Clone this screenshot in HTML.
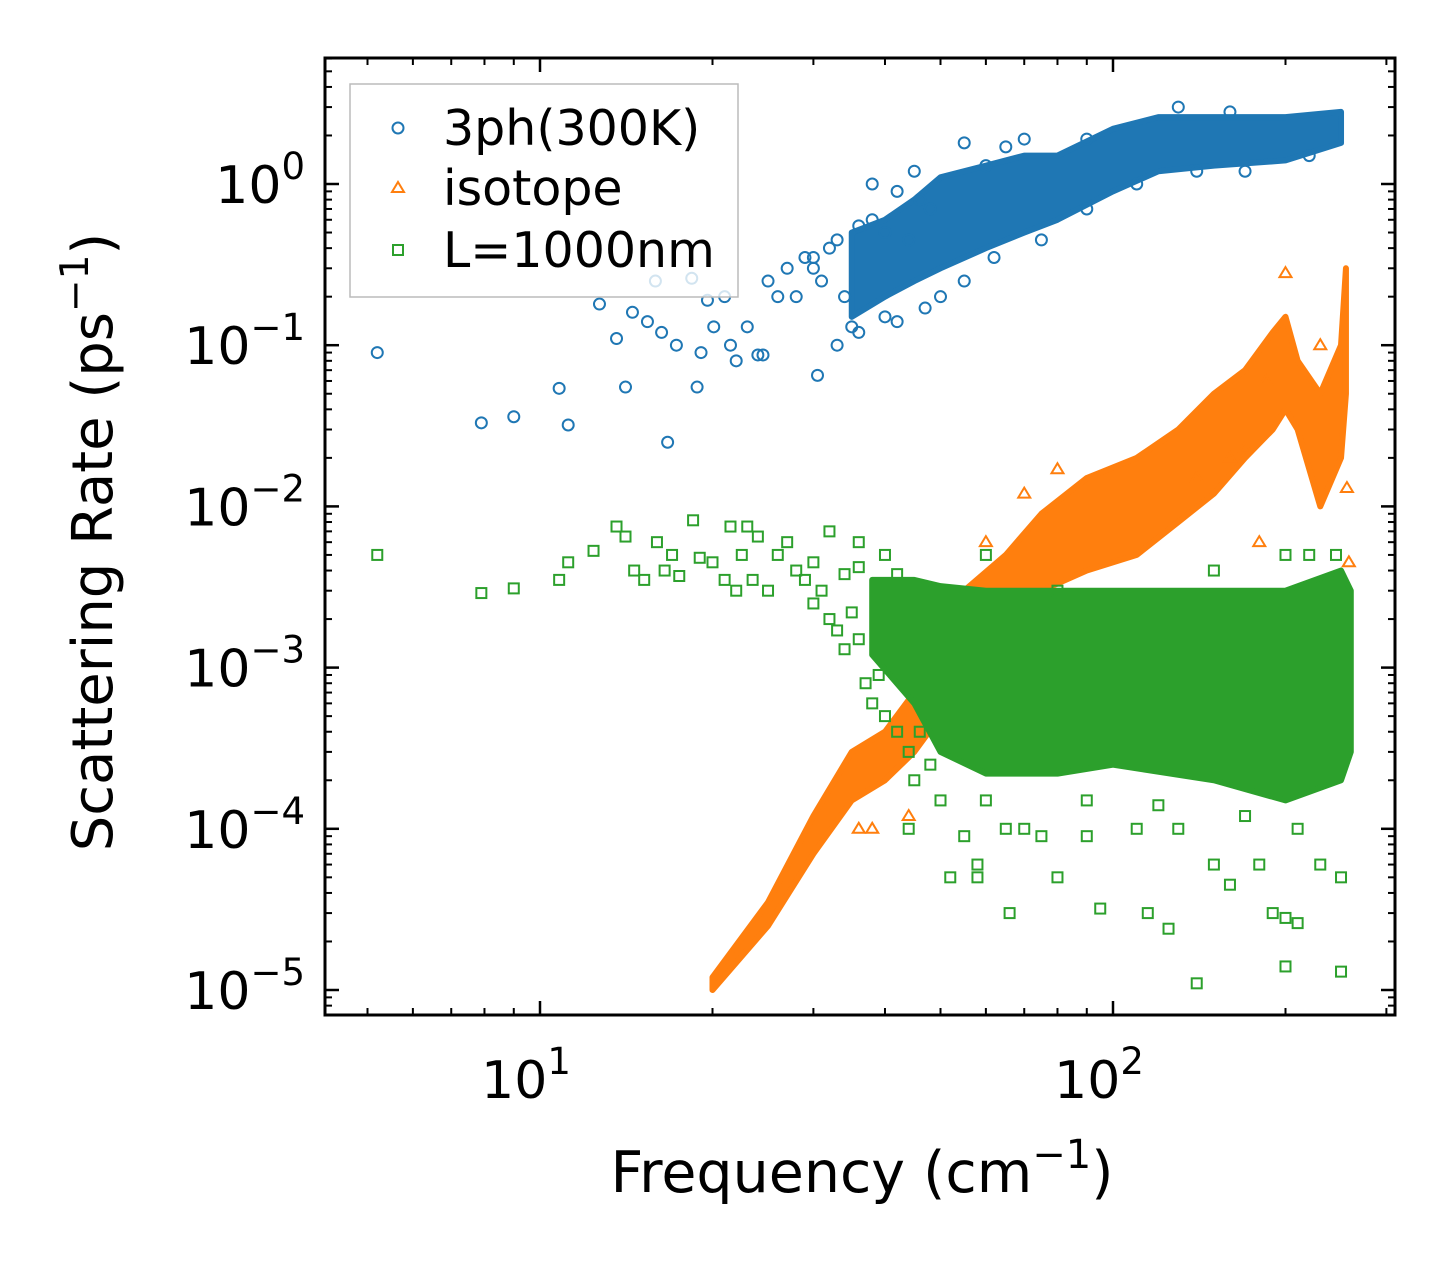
<!DOCTYPE html>
<html><head><meta charset="utf-8">
<style>
html,body{margin:0;padding:0;background:#fff;}
svg text{font-family:"DejaVu Sans","Liberation Sans",sans-serif;fill:#000;}
</style></head>
<body>
<svg id="chart" width="1455" height="1265" viewBox="0 0 1455 1265" xmlns="http://www.w3.org/2000/svg">
<g id="plot"></g>
<g id="axes"></g>
<rect x="325" y="58" width="1070" height="957" fill="none" stroke="#000" stroke-width="3"/>
<text transform="translate(112,542) rotate(-90)" text-anchor="middle" font-size="56">Scattering Rate (ps<tspan dy="-24" font-size="39">−1</tspan><tspan dy="24">)</tspan></text>
<text x="862" y="1192" text-anchor="middle" font-size="57">Frequency (cm<tspan dy="-24" font-size="40">−1</tspan><tspan dy="24">)</tspan></text>
<g>
<rect x="350" y="84" width="388" height="213" fill="#fff" fill-opacity="0.8" stroke="#bbb" stroke-width="1.5"/>
<circle cx="398" cy="128" r="5.5" fill="none" stroke="#1f77b4" stroke-width="2"/>
<text x="443" y="145" font-size="49">3ph(300K)</text>
<polygon points="398,182 404,192 392,192" fill="none" stroke="#ff7f0e" stroke-width="2"/>
<text x="443" y="205" font-size="49">isotope</text>
<rect x="393" y="245" width="10" height="10" fill="none" stroke="#2ca02c" stroke-width="2"/>
<text x="443" y="267" font-size="49">L=1000nm</text>
</g>
</svg>
<script>
// Dense-region envelopes: [freq, low, high]
const blueBand = [[35,0.15,0.5],[40,0.2,0.6],[45,0.25,0.8],[50,0.3,1.1],[60,0.4,1.3],[70,0.5,1.5],[80,0.6,1.5],[100,0.9,2.2],[120,1.2,2.6],[150,1.3,2.6],[200,1.4,2.6],[250,1.8,2.8]];
const orangeBand = [[20,1e-5,1.2e-5],[25,2.5e-5,3.5e-5],[30,7e-5,1.2e-4],[35,1.5e-4,3e-4],[40,2e-4,4e-4],[45,3e-4,7e-4],[50,5e-4,1.5e-3],[55,1e-3,3e-3],[65,2e-3,5e-3],[75,3e-3,9e-3],[90,4e-3,1.5e-2],[110,5e-3,2e-2],[130,8e-3,3e-2],[150,1.2e-2,5e-2],[170,2e-2,7e-2],[190,3e-2,1.2e-1],[200,4e-2,1.5e-1],[210,3e-2,8e-2],[230,1e-2,5e-2],[250,2e-2,1e-1],[255,5e-2,3e-1]];
const greenBand = [[38,1.2e-3,3.5e-3],[45,6e-4,3.5e-3],[50,3e-4,3.2e-3],[60,2.2e-4,3e-3],[80,2.2e-4,3e-3],[100,2.5e-4,3e-3],[150,2e-4,3e-3],[200,1.5e-4,3e-3],[250,2e-4,4e-3],[260,3e-4,3e-3]];
// Scattered points: [freq, rate]
const bluePts = [[5.2,0.09],[7.9,0.033],[9,0.036],[10.8,0.054],[11.2,0.032],[12.7,0.18],[13.6,0.11],[14.1,0.055],[14.5,0.16],[15.4,0.14],[15.9,0.25],[16.3,0.12],[16.7,0.025],[17.3,0.1],[18.4,0.26],[18.8,0.055],[19.1,0.09],[19.6,0.19],[20.1,0.13],[21,0.2],[21.5,0.1],[22,0.08],[23,0.13],[24,0.087],[24.5,0.087],[25,0.25],[26,0.2],[27,0.3],[28,0.2],[29,0.35],[30,0.3],[30.5,0.065],[31,0.25],[32,0.4],[33,0.1],[34,0.2],[35,0.13],[36,0.12],[38,1.0],[40,0.15],[42,0.9],[45,1.2],[46,0.8],[50,0.2],[55,1.8],[60,1.3],[70,1.9],[48,0.7],[44,0.45],[30,0.35],[33,0.45],[36,0.55],[38,0.6],[40,0.5],[42,0.14],[47,0.17],[55,0.25],[62,0.35],[75,0.45],[90,0.7],[110,1.0],[140,1.2],[170,1.2],[220,1.5],[130,3.0],[160,2.8],[90,1.9],[65,1.7]];
const orangePts = [[36,1e-4],[38,1e-4],[44,1.2e-4],[70,1.2e-2],[80,1.7e-2],[100,2e-3],[120,2e-3],[170,2.3e-2],[185,6e-2],[200,2.8e-1],[230,1e-1],[258,4.5e-3],[256,1.3e-2],[180,6e-3],[60,6e-3],[140,1.5e-2],[160,2e-2]];
const greenPts = [[5.2,5e-3],[7.9,2.9e-3],[9,3.1e-3],[10.8,3.5e-3],[11.2,4.5e-3],[12.4,5.3e-3],[13.6,7.5e-3],[14.1,6.5e-3],[14.6,4e-3],[15.2,3.5e-3],[16,6e-3],[16.5,4e-3],[17,5e-3],[17.5,3.7e-3],[18.5,8.2e-3],[19,4.8e-3],[20,4.5e-3],[21,3.5e-3],[21.5,7.5e-3],[22,3e-3],[22.5,5e-3],[23,7.5e-3],[23.5,3.5e-3],[24,6.5e-3],[25,3e-3],[26,5e-3],[27,6e-3],[32,7e-3],[36,6e-3],[40,5e-3],[44,1e-4],[45,2e-4],[52,5e-5],[55,9e-5],[58,6e-5],[58,5e-5],[65,1e-4],[66,3e-5],[70,1e-4],[75,9e-5],[80,5e-5],[90,9e-5],[95,3.2e-5],[110,1e-4],[115,3e-5],[125,2.4e-5],[130,1e-4],[140,1.1e-5],[150,6e-5],[160,4.5e-5],[180,6e-5],[190,3e-5],[200,2.8e-5],[200,1.4e-5],[210,2.6e-5],[250,1.3e-5],[250,5e-5],[60,5e-3],[80,3e-3],[150,4e-3],[200,5e-3],[220,5e-3],[245,5e-3],[230,6e-5],[28,4e-3],[29,3.5e-3],[30,2.5e-3],[31,3e-3],[32,2e-3],[33,1.7e-3],[34,1.3e-3],[35,2.2e-3],[36,1.5e-3],[37,8e-4],[38,6e-4],[39,9e-4],[40,5e-4],[42,4e-4],[44,3e-4],[46,4e-4],[48,2.5e-4],[30,4.5e-3],[34,3.8e-3],[36,4.2e-3],[42,3.8e-3],[50,1.5e-4],[60,1.5e-4],[90,1.5e-4],[120,1.4e-4],[170,1.2e-4],[210,1e-4]];
const xTickExps = [1,2];
const yTickExps = [0,-1,-2,-3,-4,-5];

const NS="http://www.w3.org/2000/svg";
function X(v){return 540+(Math.log10(v)-1)*573;}
function Y(v){return 184-Math.log10(v)*161.2;}
const plot=document.getElementById('plot'), axes=document.getElementById('axes');
function mk(tag,attrs,parent){const e=document.createElementNS(NS,tag);for(const k in attrs)e.setAttribute(k,attrs[k]);parent.appendChild(e);return e;}

function band(data,color,name){
  let d='M'+data.map(p=>X(p[0])+','+Y(p[2])).join(' L');
  d+=' L'+data.slice().reverse().map(p=>X(p[0])+','+Y(p[1])).join(' L')+' Z';
  const e=mk('path',{d:d,fill:color,stroke:color,'stroke-width':'6','stroke-linejoin':'round'},plot);
  
  
}
function pts(data,color,shape,name){
  data.forEach(p=>{
    const x=X(p[0]),y=Y(p[1]);let e;
    if(shape==='c')e=mk('circle',{cx:x,cy:y,r:5.5,fill:'none',stroke:color,'stroke-width':2},plot);
    else if(shape==='t')e=mk('polygon',{points:`${x},${y-6} ${x+6},${y+4} ${x-6},${y+4}`,fill:'none',stroke:color,'stroke-width':2},plot);
    else e=mk('rect',{x:x-5,y:y-5,width:10,height:10,fill:'none',stroke:color,'stroke-width':2},plot);
    
    
  });
}
band(blueBand,'#1f77b4','band-3ph');
pts(bluePts,'#1f77b4','c','point-3ph');
band(orangeBand,'#ff7f0e','band-isotope');
pts(orangePts,'#ff7f0e','t','point-isotope');
band(greenBand,'#2ca02c','band-boundary');
pts(greenPts,'#2ca02c','s','point-boundary');

// ticks
const L=325,R=1395,T=58,B=1015;
function tick(x1,y1,x2,y2,w){mk('line',{x1,y1,x2,y2,stroke:'#000','stroke-width':w},axes);}
for(let e=0;e<=2;e++)for(let m=1;m<10;m++){
  const v=m*Math.pow(10,e),x=X(v);if(x<L||x>R)continue;
  const len=m===1?14:7,w=m===1?2.5:2;
  tick(x,B,x,B-len,w);tick(x,T,x,T+len,w);
}
for(let e=-6;e<=0;e++)for(let m=1;m<10;m++){
  const v=m*Math.pow(10,e),y=Y(v);if(y<T||y>B)continue;
  const len=m===1?14:7,w=m===1?2.5:2;
  tick(L,y,L+len,y,w);tick(R,y,R-len,y,w);
}
xTickExps.forEach(e=>{
  const t=mk('text',{x:X(Math.pow(10,e))-14,y:1098,'text-anchor':'middle','font-size':'52'},axes);
  t.innerHTML='10<tspan dy="-24" font-size="37">'+e+'</tspan>';
  
  
});
yTickExps.forEach(e=>{
  const t=mk('text',{x:305,y:Y(Math.pow(10,e))+19,'text-anchor':'end','font-size':'52'},axes);
  t.innerHTML='10<tspan dy="-24" font-size="37">'+(e<0?'−'+(-e):e)+'</tspan>';
  
  
});
</script>
</body></html>
